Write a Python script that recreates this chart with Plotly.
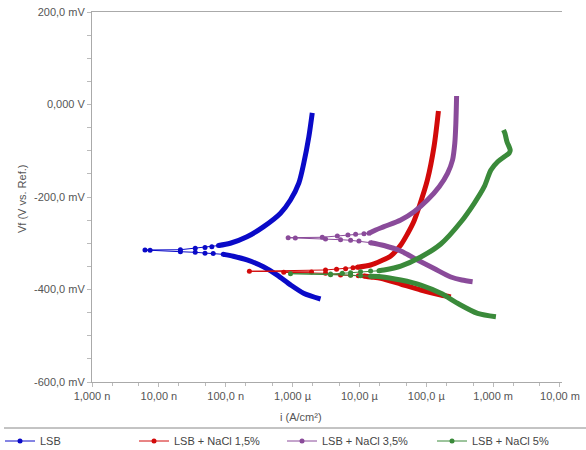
import plotly.graph_objects as go

# ---------------- data (current density A/cm², potential V) ----------------
names = ["LSB", "LSB + NaCl 1,5%", "LSB + NaCl 3,5%", "LSB + NaCl 5%"]
colors = ["#0a0ac8", "#d20a0a", "#8a4b9a", "#3a8a3a"]

# LSB
lsb_cat_i = [2.62e-6, 1.46e-6, 9.3e-7, 5.9e-7, 3.66e-7, 2.08e-7, 1.30e-7, 9.2e-8]
lsb_cat_v = [-0.4205, -0.408, -0.390, -0.369, -0.351, -0.336, -0.328, -0.324]
lsb_eco_i = [6.5e-8, 4.9e-8, 3.5e-8, 2.1e-8, 7.4e-9, 6.2e-9, 2.1e-8, 3.5e-8, 4.9e-8, 6.2e-8]
lsb_eco_v = [-0.322, -0.3217, -0.3196, -0.3183, -0.315, -0.3146, -0.314, -0.311, -0.309, -0.3075]
lsb_ano_i = [7.8e-8, 1.17e-7, 2.08e-7, 3.7e-7, 6.6e-7, 9.3e-7, 1.24e-6, 1.47e-6, 1.75e-6, 1.97e-6]
lsb_ano_v = [-0.305, -0.300, -0.286, -0.264, -0.235, -0.2065, -0.170, -0.127, -0.070, -0.018]

# LSB + NaCl 1,5%
red_cat_i = [2.33e-4, 1.65e-4, 8.28e-5, 4.15e-5, 2.08e-5, 1.47e-5, 1.17e-5]
red_cat_v = [-0.4162, -0.4119, -0.4011, -0.3881, -0.3758, -0.373, -0.3708]
red_eco_i = [9.64e-6, 7.38e-6, 5.22e-6, 3.11e-6, 7.38e-7, 1.92e-6, 2.26e-7, 3.11e-6, 4.55e-6, 6.21e-6, 8.0e-6]
red_eco_v = [-0.3702, -0.3686, -0.3686, -0.365, -0.3628, -0.3622, -0.3606, -0.3578, -0.3563, -0.355, -0.3529]
red_ano_i = [9.31e-6, 1.47e-5, 2.08e-5, 2.94e-5, 4.15e-5, 5.22e-5, 6.56e-5, 7.80e-5, 1.04e-4, 1.31e-4, 1.52e-4]
red_ano_v = [-0.352, -0.347, -0.3384, -0.3276, -0.3038, -0.280, -0.2519, -0.2216, -0.1632, -0.0897, -0.0141]

# LSB + NaCl 3,5%
pur_cat_i = [4.93e-4, 3.40e-4, 2.33e-4, 1.31e-4, 7.38e-5, 4.15e-5, 2.33e-5, 1.47e-5]
pur_cat_v = [-0.3831, -0.3795, -0.373, -0.3546, -0.3362, -0.3168, -0.3049, -0.2988]
pur_eco_i = [9.84e-6, 7.38e-6, 5.22e-6, 3.11e-6, 1.10e-6, 8.59e-7, 2.78e-6, 4.67e-6, 6.73e-6, 8.77e-6, 1.17e-5]
pur_eco_v = [-0.2951, -0.2936, -0.2923, -0.2908, -0.2886, -0.2880, -0.2871, -0.2843, -0.2822, -0.2806, -0.2794]
pur_ano_i = [1.39e-5, 1.75e-5, 2.33e-5, 4.15e-5, 6.56e-5, 1.04e-4, 1.56e-4, 2.08e-4, 2.47e-4, 2.67e-4, 2.77e-4, 2.84e-4]
pur_ano_v = [-0.2785, -0.2714, -0.2642, -0.2497, -0.2318, -0.2065, -0.1777, -0.1488, -0.120, -0.0839, -0.0406, 0.0184]

# LSB + NaCl 5%
grn_cat_i = [1.10e-3, 5.86e-4, 2.94e-4, 1.65e-4, 8.28e-5, 4.15e-5, 2.08e-5, 1.47e-5]
grn_cat_v = [-0.4588, -0.4515, -0.4298, -0.4082, -0.3903, -0.3795, -0.3723, -0.3715]
grn_eco_i = [1.04e-5, 7.38e-6, 3.70e-6, 9.31e-7, 3.70e-6, 5.55e-6, 7.38e-6, 1.04e-5, 1.47e-5]
grn_eco_v = [-0.370, -0.369, -0.368, -0.3658, -0.3665, -0.365, -0.3637, -0.3615, -0.360]
grn_ano_i = [1.96e-5, 2.33e-5, 4.15e-5, 8.28e-5, 1.65e-4, 3.29e-4, 5.21e-4, 7.36e-4, 9.27e-4,
             1.17e-3, 1.45e-3, 1.74e-3, 1.80e-3, 1.61e-3, 1.50e-3, 1.43e-3]
grn_ano_v = [-0.3594, -0.3578, -0.3492, -0.3297, -0.3016, -0.2541, -0.2136, -0.1777, -0.1416,
             -0.1237, -0.1135, -0.1049, -0.0984, -0.0804, -0.0623, -0.0551]

x_tickvals = [1e-9, 1e-8, 1e-7, 1e-6, 1e-5, 1e-4, 1e-3, 1e-2]
x_ticktext = ["1,000 n", "10,00 n", "100,0 n", "1,000 µ", "10,00 µ", "100,0 µ", "1,000 m", "10,00 m"]
y_tickvals = [-0.6, -0.4, -0.2, 0.0, 0.2]
y_ticktext = ["-600,0 mV", "-400,0 mV", "-200,0 mV", "0,000 V", "200,0 mV"]

series = [
    (lsb_cat_i, lsb_cat_v, lsb_eco_i, lsb_eco_v, lsb_ano_i, lsb_ano_v),
    (red_cat_i, red_cat_v, red_eco_i, red_eco_v, red_ano_i, red_ano_v),
    (pur_cat_i, pur_cat_v, pur_eco_i, pur_eco_v, pur_ano_i, pur_ano_v),
    (grn_cat_i, grn_cat_v, grn_eco_i, grn_eco_v, grn_ano_i, grn_ano_v),
]

W, H = 586, 450
ML, MR, MT, MB = 92, 24, 12, 68
legend_keys = ["legend", "legend2", "legend3", "legend4"]
legend_left_px = [0, 134, 282, 432]

fig = go.Figure()
for k, (ci, cv, ei, ev, ai, av) in enumerate(series):
    col = colors[k]
    for bi, bv in ((ci, cv), (ai, av)):
        fig.add_trace(go.Scatter(x=bi, y=bv, mode="lines",
                                 line=dict(color=col, width=5, shape="spline", smoothing=0.8),
                                 showlegend=False, hoverinfo="skip"))
    fig.add_trace(go.Scatter(x=[ci[-1]] + ei + [ai[0]], y=[cv[-1]] + ev + [av[0]],
                             mode="lines+markers", name=names[k], legend=legend_keys[k],
                             line=dict(color=col, width=1), marker=dict(color=col, size=5)))

font = "Liberation Sans, Arial, sans-serif"
legends = {}
for k, key in enumerate(legend_keys):
    legends[key] = dict(orientation="h", xref="container", yref="container",
                        x=legend_left_px[k] / W, y=(H - 441) / H, xanchor="left", yanchor="middle",
                        font=dict(size=11, color="#444444"), itemclick=False,
                        bgcolor="rgba(0,0,0,0)")

pw, ph = W - ML - MR, H - MT - MB
fig.update_layout(
    width=W, height=H,
    margin=dict(l=ML, r=MR, t=MT, b=MB, autoexpand=False),
    paper_bgcolor="white", plot_bgcolor="white",
    font=dict(family=font, size=11, color="#555555"),
    showlegend=True,
    **legends,
    shapes=[dict(type="line", xref="paper", yref="paper", x0=(4 - ML) / pw, x1=(W - ML) / pw,
                 y0=(ph + MT - 428) / ph, y1=(ph + MT - 428) / ph,
                 line=dict(color="#888888", width=1))],
    annotations=[
        dict(text="i (A/cm²)", xref="paper", yref="paper", x=(301 - ML) / pw,
             y=(ph + MT - 417) / ph, showarrow=False, xanchor="center", yanchor="middle",
             font=dict(size=11, color="#555555")),
        dict(text="Vf (V vs. Ref.)", xref="paper", yref="paper", x=(22 - ML) / pw,
             y=(ph + MT - 199) / ph, showarrow=False, textangle=-90, xanchor="center",
             yanchor="middle", font=dict(size=11, color="#555555")),
    ],
)
fig.update_xaxes(
    type="log", range=[-9, -1.97], tickvals=x_tickvals, ticktext=x_ticktext, tickangle=0,
    ticklabeloverflow="allow",
    showgrid=False, zeroline=False, showline=True, linecolor="#aaaaaa", linewidth=1,
    mirror=True, ticks="outside", ticklen=4, tickcolor="#bbbbbb",
    minor=dict(ticks="outside", ticklen=3, tickcolor="#bbbbbb", showgrid=False),
)
fig.update_yaxes(
    range=[-0.6, 0.2], tickvals=y_tickvals, ticktext=y_ticktext, ticklabeloverflow="allow",
    showgrid=False, zeroline=False, showline=True, linecolor="#aaaaaa", linewidth=1,
    ticks="outside", ticklen=4, tickcolor="#bbbbbb",
    minor=dict(ticks="outside", ticklen=4, tickcolor="#bbbbbb", dtick=0.05, showgrid=False),
)
fig.write_html("out.html", config={"displayModeBar": False},
               post_script="document.body.style.margin='0';document.body.style.overflow='hidden';")
